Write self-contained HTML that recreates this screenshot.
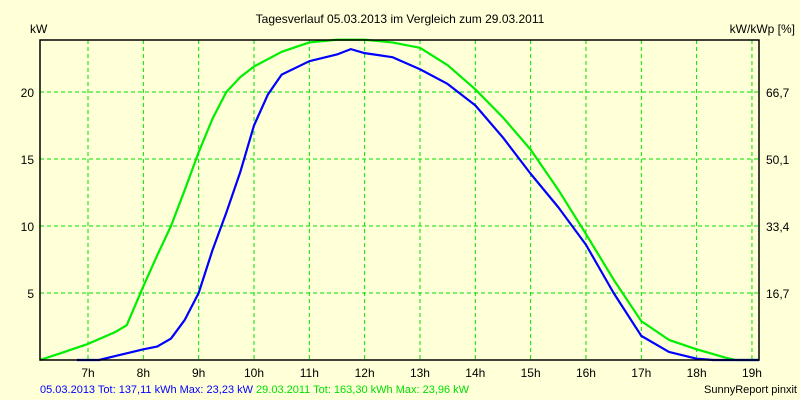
<!DOCTYPE html>
<html><head><meta charset="utf-8"><style>
body{margin:0;background:#ffffd8;}
svg{display:block;font-family:"Liberation Sans",sans-serif;font-size:12px;}
</style></head><body>
<svg id="chart" width="800" height="400">
<rect width="800" height="400" fill="#ffffd8"/>
<text x="400" y="23" text-anchor="middle">Tagesverlauf 05.03.2013 im Vergleich zum 29.03.2011</text>
<text x="30" y="33">kW</text>
<text x="795" y="33" text-anchor="end">kW/kWp [%]</text>
<g id="grid"></g><g id="series"></g><g id="axes"></g>
<text x="40" y="393" font-size="11"><tspan fill="#0000ff">05.03.2013 Tot: 137,11 kWh Max: 23,23 kW</tspan><tspan fill="#00e000"> 29.03.2011 Tot: 163,30 kWh Max: 23,96 kW</tspan></text>
<text x="797" y="393" font-size="11" text-anchor="end">SunnyReport pinxit</text>
</svg>
<script>
const hourTicks=[7,8,9,10,11,12,13,14,15,16,17,18,19];
const kwTicks=[5,10,15,20];
const pctLabels=["16,7","33,4","50,1","66,7"];
const greenHours=[6.13,6.5,7,7.5,7.7,8,8.25,8.5,8.75,9,9.25,9.5,9.75,10,10.5,11,11.5,12,12.5,13,13.5,14,14.5,15,15.5,16,16.5,17,17.5,18,18.5,18.7,19.13];
const greenKw=[0,0.5,1.2,2.1,2.6,5.5,7.8,10,12.7,15.5,18,20,21.1,21.9,23,23.7,23.9,23.9,23.7,23.3,22,20.2,18.1,15.7,12.7,9.4,6,2.9,1.5,0.8,0.2,0,0];
const blueHours=[6.8,7.2,7.5,8,8.25,8.5,8.75,9,9.25,9.5,9.75,10,10.25,10.5,11,11.5,11.75,12,12.5,13,13.5,14,14.5,15,15.5,16,16.5,17,17.5,18,18.3,19.13];
const blueKw=[0,0,0.3,0.8,1,1.6,3,5,8.2,11,14,17.5,19.8,21.3,22.3,22.8,23.2,22.9,22.6,21.7,20.6,19,16.6,13.9,11.4,8.6,5,1.8,0.6,0.1,0,0];
const L=40,R=759,T=40,B=360;
const x=h=>88+(h-7)*55.33;
const y=v=>B-v*13.4;
const ns="http://www.w3.org/2000/svg";
function mk(tag,attrs,parent){const e=document.createElementNS(ns,tag);for(const k in attrs)e.setAttribute(k,attrs[k]);document.getElementById(parent).appendChild(e);return e;}
hourTicks.forEach(h=>{
 const l=mk('line',{x1:x(h),x2:x(h),y1:T,y2:B,stroke:'#00e000','stroke-dasharray':'4,3'},'grid');
 
 
 const t=mk('text',{x:x(h),y:377,'text-anchor':'middle'},'axes');t.textContent=h+'h';
 
 
});
kwTicks.forEach((v,i)=>{
 const l=mk('line',{x1:L,x2:R,y1:y(v),y2:y(v),stroke:'#00e000','stroke-dasharray':'4,3'},'grid');
 
 
 const t=mk('text',{x:34,y:y(v)+5,'text-anchor':'end'},'axes');t.textContent=v;
 
 
 const p=mk('text',{x:766,y:y(v)+5},'axes');p.textContent=pctLabels[i];
 
 
});
function line(hs,vs,c,name){
 const p=mk('polyline',{points:hs.map((h,i)=>x(h)+','+y(vs[i])).join(' '),fill:'none',stroke:c,'stroke-width':2.2,'stroke-linejoin':'round'},'series');
 
 
}
line(greenHours,greenKw,'#00ee00','series-2011');
line(blueHours,blueKw,'#0000ff','series-2013');
const f=mk('rect',{x:L,y:T,width:R-L,height:B-T,fill:'none',stroke:'#000','stroke-width':1.5},'axes');


</script>
</body></html>
